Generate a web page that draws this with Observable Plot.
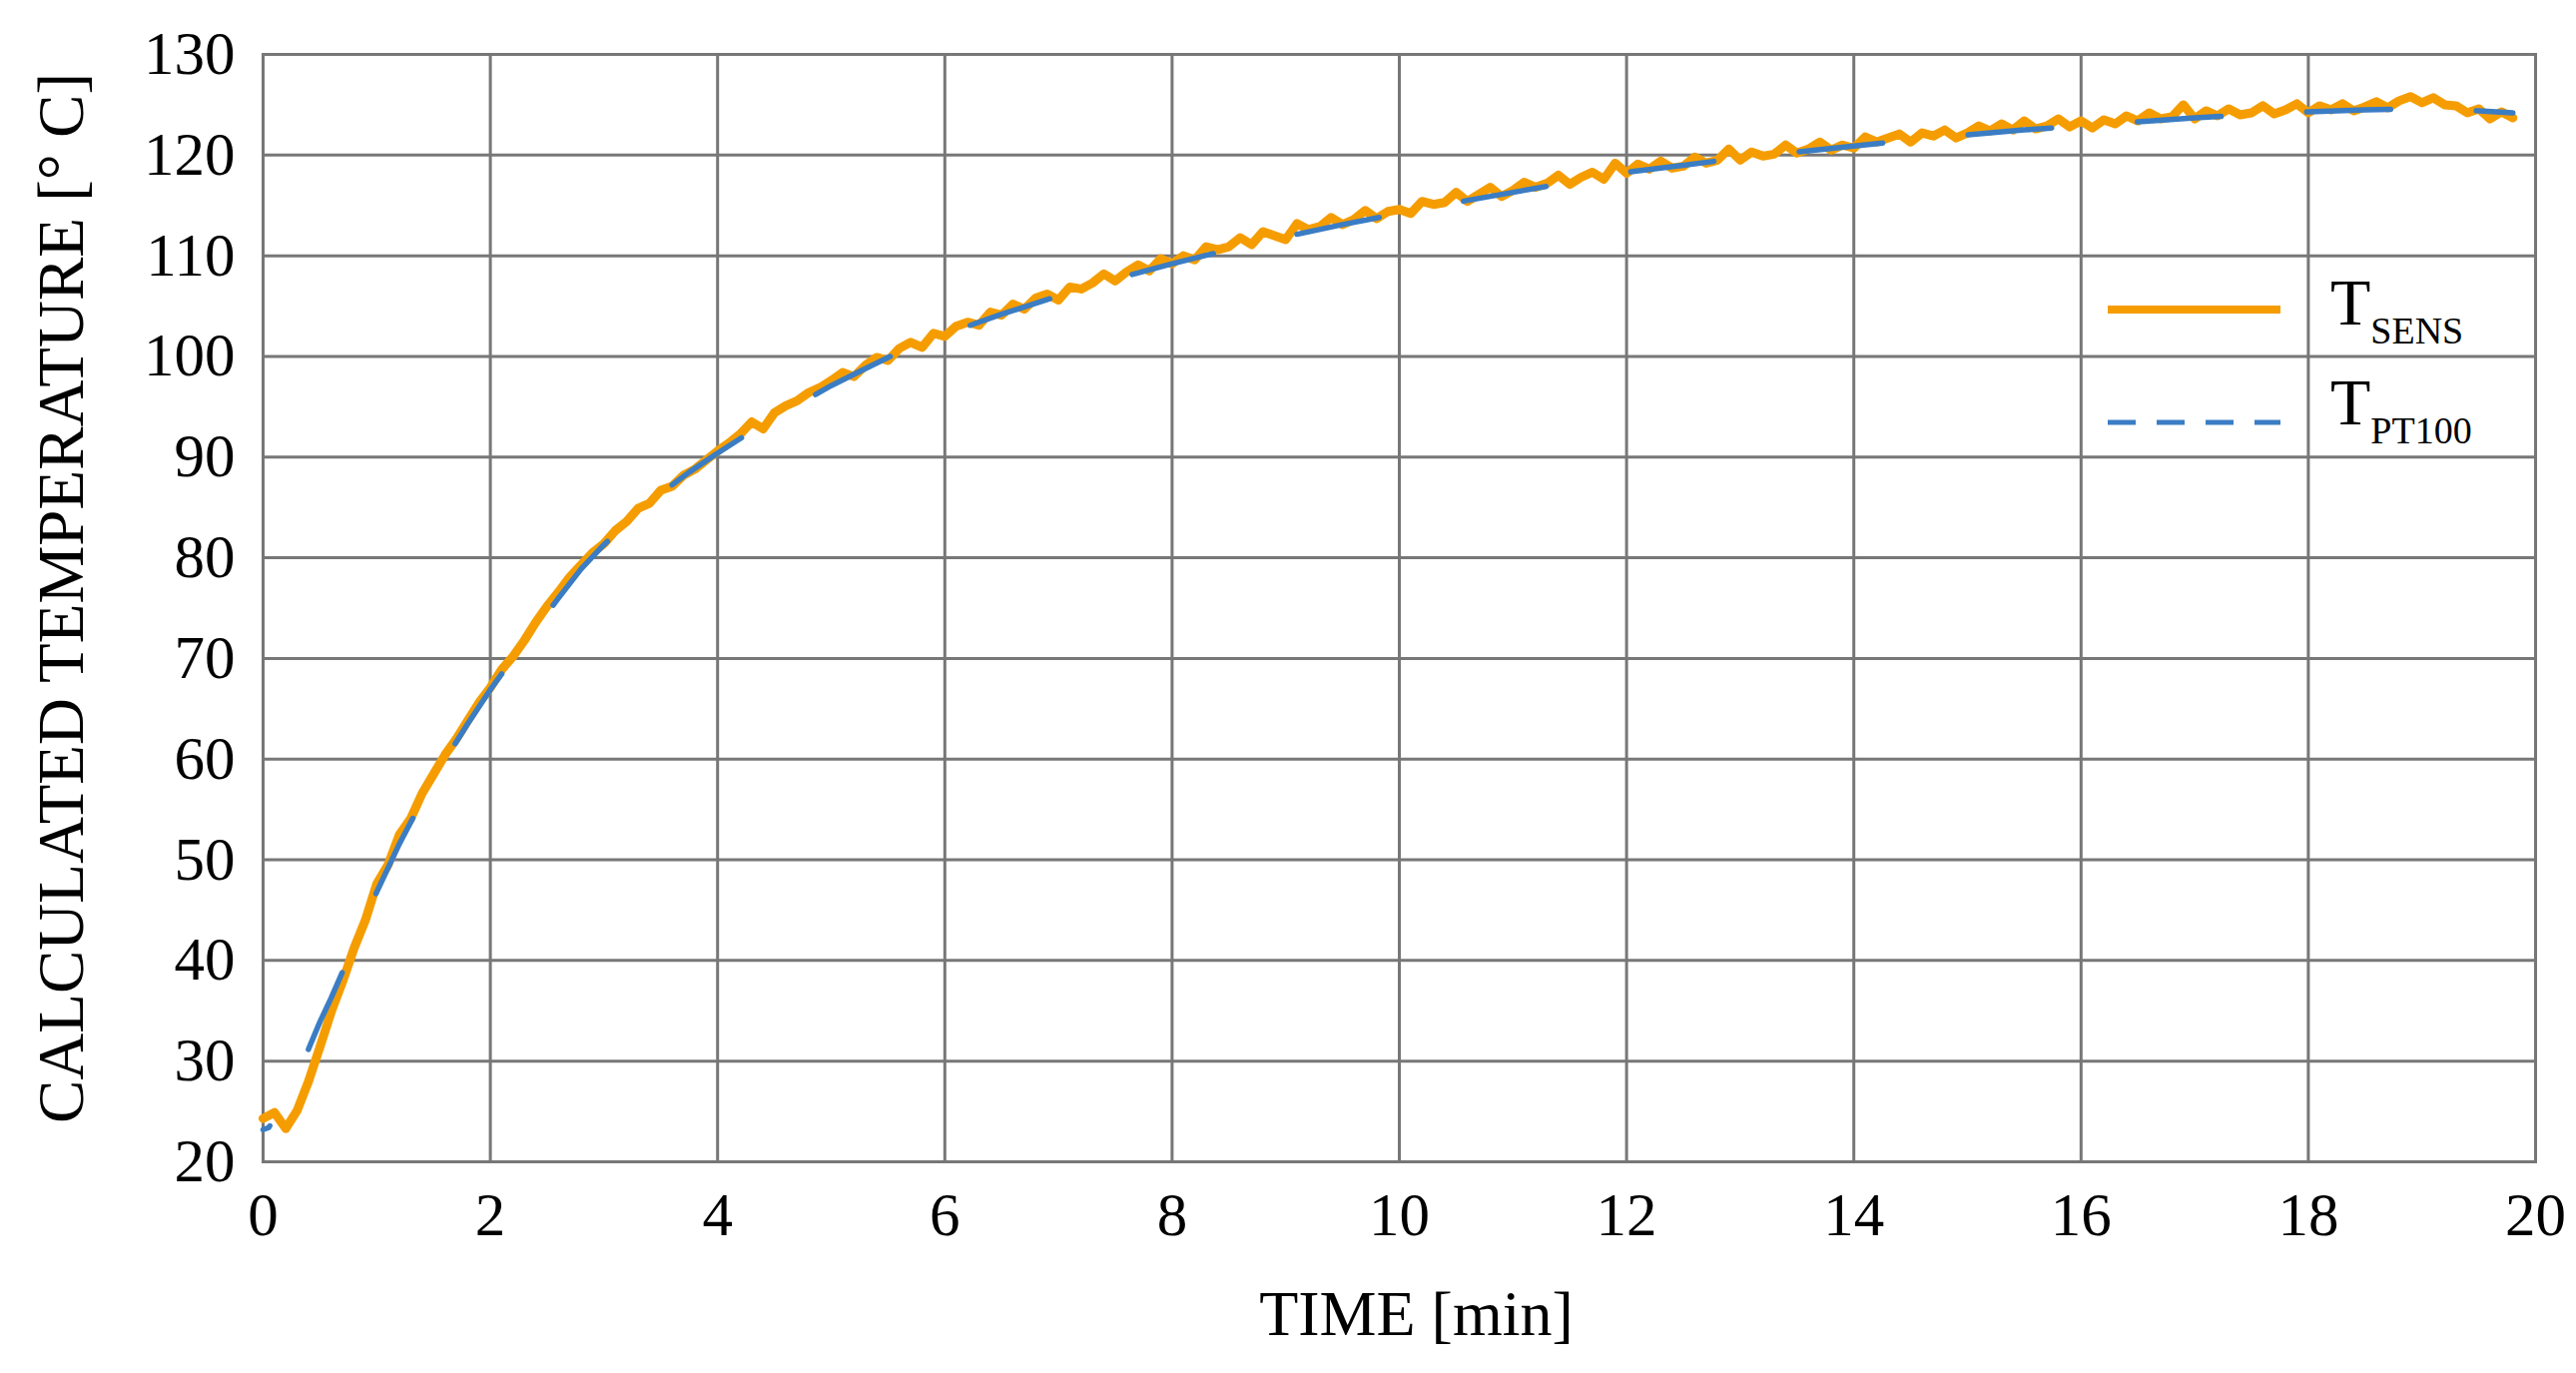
<!DOCTYPE html>
<html><head><meta charset="utf-8">
<script src="https://cdn.jsdelivr.net/npm/d3@7"></script>
<script src="https://cdn.jsdelivr.net/npm/@observablehq/plot@0.6"></script>
<style>
html,body{margin:0;padding:0;background:#fff;}
#wrap{position:relative;width:2580px;height:1375px;}
#legend{position:absolute;left:0;top:0;pointer-events:none;}
</style></head><body><div id="wrap"></div>
<script>
const xTicks = [0, 2, 4, 6, 8, 10, 12, 14, 16, 18, 20];
const yTicks = [20, 30, 40, 50, 60, 70, 80, 90, 100, 110, 120, 130];
const xTitle = "TIME [min]";
const yTitle = "CALCULATED TEMPERATURE [° C]";
const seriesMain = ["T", "T"];
const seriesSub = ["SENS", "PT100"];
const seriesColors = ["#F59D00", "#3B7DC4"];

// T_SENS sampled every 0.1 min from 0 to 19.8 min
const sensStart = 0, sensStep = 0.1;
const sensTemp = [
24.3,24.9,23.3,25.1,28.0,31.4,34.9,37.9,41.2,44.0,
47.6,49.5,52.5,54.1,56.6,58.5,60.4,62.0,63.8,65.6,
67.1,68.9,70.2,71.8,73.6,75.2,76.6,78.1,79.3,80.5,
81.4,82.7,83.6,84.9,85.4,86.7,87.1,88.2,88.8,89.7,
90.6,91.4,92.3,93.5,92.8,94.4,95.1,95.6,96.4,96.9,
97.6,98.4,98.0,99.1,99.9,99.6,100.8,101.4,100.9,102.3,
102.0,103.0,103.4,103.1,104.4,104.1,105.2,104.7,105.8,106.2,
105.6,106.9,106.7,107.3,108.2,107.5,108.4,109.1,108.5,109.7,
109.2,110.0,109.6,110.9,110.6,110.9,111.8,111.1,112.4,112.0,
111.6,113.2,112.6,112.9,113.8,113.1,113.6,114.5,113.7,114.4,
114.6,114.2,115.4,115.1,115.3,116.3,115.4,116.1,116.8,115.9,
116.5,117.3,116.8,117.2,118.0,117.1,117.8,118.3,117.6,119.2,
118.2,119.1,118.6,119.4,118.7,118.9,119.8,119.2,119.5,120.6,
119.5,120.3,119.9,120.1,121.0,120.2,120.6,121.3,120.5,121.0,
120.7,121.8,121.3,121.7,122.1,121.3,122.2,121.9,122.5,121.7,
122.2,122.9,122.4,123.1,122.5,123.4,122.6,122.9,123.6,122.8,
123.4,122.7,123.5,123.1,123.9,123.4,124.2,123.6,123.8,125.0,
123.6,124.4,123.9,124.6,124.0,124.2,124.9,124.1,124.5,125.1,
124.2,124.9,124.5,125.1,124.4,124.8,125.3,124.7,125.4,125.8,
125.2,125.7,125.0,124.9,124.2,124.6,123.6,124.3,123.7
];

const pt100Time = [0,0.05,0.3,0.4,0.5,0.6,0.7,0.8,0.9,1.0,1.2,1.4,1.6,1.8,2.0,2.2,2.4,2.6,2.8,3.0,
3.25,3.5,3.75,4.0,4.25,4.5,4.75,5.0,5.25,5.5,5.75,6.0,6.5,7.0,7.5,8.0,8.5,9.0,9.5,10.0,
10.5,11.0,11.5,12.0,12.5,13.0,13.5,14.0,14.5,15.0,15.5,16.0,16.5,17.0,17.5,18.0,18.5,19.0,19.5,19.8];
const pt100Temp = [23.2,23.4,28.4,31.2,33.9,36.3,38.9,41.6,44.2,46.8,51.6,55.9,59.9,63.5,66.9,70.0,73.0,76.0,78.9,81.3,
84.0,86.4,88.5,90.4,92.2,93.9,95.5,97.1,98.5,99.9,101.1,102.2,104.2,106.0,107.7,109.2,110.6,111.9,113.1,114.2,
115.3,116.3,117.3,118.3,119.0,119.7,120.3,120.9,121.5,122.0,122.5,122.9,123.3,123.7,124.0,124.3,124.5,124.6,124.4,124.2];

const sens = sensTemp.map((v, i) => ({t: +(sensStart + i * sensStep).toFixed(2), v}));
const pt = pt100Time.map((t, i) => ({t, v: pt100Temp[i]}));

const grid = "#777777";
const font = "'Liberation Serif', 'Times New Roman', serif";
const chart = Plot.plot({
  width: 2580, height: 1375,
  marginLeft: 263, marginRight: 41, marginTop: 54, marginBottom: 212,
  style: {fontFamily: font, fontSize: "61px", color: "#000", background: "#fff", overflow: "visible"},
  x: {domain: [0, 20], ticks: xTicks, label: null},
  y: {domain: [20, 130], ticks: yTicks, label: null},
  marks: [
    Plot.gridX(xTicks, {stroke: grid, strokeOpacity: 1, strokeWidth: 3}),
    Plot.gridY(yTicks, {stroke: grid, strokeOpacity: 1, strokeWidth: 3}),
    Plot.frame({stroke: grid, strokeWidth: 3}),
    Plot.axisX(xTicks, {tickSize: 0, tickPadding: 30, fontSize: 61, label: null, fill: "#000", tickFormat: d => String(d)}),
    Plot.axisY(yTicks, {tickSize: 0, tickPadding: 28, fontSize: 61, label: null, fill: "#000", tickFormat: d => String(d)}),
    Plot.line(sens, {x: "t", y: "v", stroke: seriesColors[0], strokeWidth: 9, strokeLinejoin: "round"}),
    Plot.line(pt, {x: "t", y: "v", stroke: seriesColors[1], strokeWidth: 5.5, strokeDasharray: "84,86", strokeDashoffset: 76}),
    Plot.text([xTitle], {text: d => d, frameAnchor: "bottom", textAnchor: "middle", dx: 17, dy: 153, fontSize: 64, lineAnchor: "middle", fill: "#000"}),
    Plot.text([yTitle], {text: d => d, frameAnchor: "left", textAnchor: "middle", rotate: -90, dx: -201, dy: -10, fontSize: 65, lineAnchor: "middle", fill: "#000"})
  ]
});
document.getElementById("wrap").appendChild(chart);

// legend overlay
const lg = d3.select("#wrap").append("svg").attr("id", "legend").attr("width", 2580).attr("height", 1375)
  .style("font-family", font);
const rows = [
  {y: 310, ty: 325, w: 8, dash: null},
  {y: 423, ty: 425, w: 5, dash: "28,21"}
];
rows.forEach((r, i) => {
  lg.append("line").attr("x1", 2111).attr("x2", 2284).attr("y1", r.y).attr("y2", r.y)
    .attr("stroke", seriesColors[i]).attr("stroke-width", r.w).attr("stroke-dasharray", r.dash);
  const t = lg.append("text").attr("x", 2334).attr("y", r.ty).attr("fill", "#000");
  t.append("tspan").attr("font-size", 66).text(seriesMain[i]);
  t.append("tspan").attr("font-size", 38).attr("dy", 19).text(seriesSub[i]);
});
</script></body></html>
